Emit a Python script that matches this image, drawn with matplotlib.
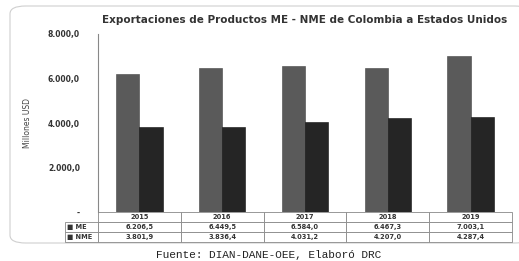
# Exportaciones de productos ME - NME de Colombia a Estados Unidos
import matplotlib.pyplot as plt
from matplotlib.patches import FancyBboxPatch

years = ['2015', '2016', '2017', '2018', '2019']
me = [6206.5, 6449.5, 6584.0, 6467.3, 7003.1]
nme = [3801.9, 3836.4, 4031.2, 4207.0, 4287.4]
me_labels = ['6.206,5', '6.449,5', '6.584,0', '6.467,3', '7.003,1']
nme_labels = ['3.801,9', '3.836,4', '4.031,2', '4.207,0', '4.287,4']
yticks = [0, 2000, 4000, 6000, 8000]
ytick_labels = ['-', '2.000,0', '4.000,0', '6.000,0', '8.000,0']

c_me = '#5a5a5a'
c_nme = '#252525'

fig = plt.figure(figsize=(5.19, 2.61), dpi=100)

# rounded frame around the chart
frame = FancyBboxPatch((10 / 519, 1 - 243 / 261), 520 / 519, 237 / 261,
                       boxstyle='round,pad=0,rounding_size=0.03',
                       transform=fig.transFigure, fc='white', ec='#cfcfcf', lw=0.8,
                       zorder=-5)
fig.patches.append(frame)

ax = fig.add_axes([98 / 519, 1 - 212 / 261, 414 / 519, 178 / 261])
ax.patch.set_alpha(0)
x = range(len(years))
w = 0.28
ax.bar([i - w / 2 for i in x], me, width=w, color=c_me, edgecolor='#444444', lw=0.4)
ax.bar([i + w / 2 for i in x], nme, width=w, color=c_nme, edgecolor='#111111', lw=0.4)

ax.set_xlim(-0.5, len(years) - 0.5)
ax.set_ylim(0, 8000)
ax.set_yticks(yticks)
ax.set_yticklabels(ytick_labels, fontsize=5.5, fontweight='bold', color='#333333')
ax.tick_params(axis='y', length=0, pad=13)
ax.set_xticks([])
for s in ['top', 'right', 'bottom']:
    ax.spines[s].set_visible(False)
ax.spines['left'].set_color('#888888')
ax.spines['left'].set_linewidth(0.8)

ax.set_ylabel('Millones USD', fontsize=5.5, color='#444444')
ax.yaxis.set_label_coords(-0.159, 0.5)
ax.set_title('Exportaciones de Productos ME - NME de Colombia a Estados Unidos',
             fontsize=7.5, fontweight='bold', color='#333333', pad=8, x=0.5)

# data table below the bars
cells = [[''] + years,
         ['■ ME'] + me_labels,
         ['■ NME'] + nme_labels]
lab_w = 33 / 414
tab = ax.table(cellText=cells, colWidths=[lab_w] + [1 / 5] * 5,
               bbox=[-lab_w, -30 / 178, 1 + lab_w, 30 / 178], cellLoc='center')
tab.auto_set_font_size(False)
for (r, c), cell in tab.get_celld().items():
    cell.set_edgecolor('#888888')
    cell.set_linewidth(0.6)
    cell.get_text().set_fontsize(4.8)
    cell.get_text().set_fontweight('bold')
    cell.get_text().set_color('#333333')
    if c == 0:
        cell.get_text().set_ha('left')
        cell.PAD = 0.06
        if r == 0:
            cell.visible_edges = ''

fig.text(269 / 519, 1 - 255 / 261, 'Fuente: DIAN-DANE-OEE, Elaboró DRC',
         fontsize=8, family='Liberation Mono', ha='center', va='center', color='#222222')

fig.savefig('out.png', dpi=100)
